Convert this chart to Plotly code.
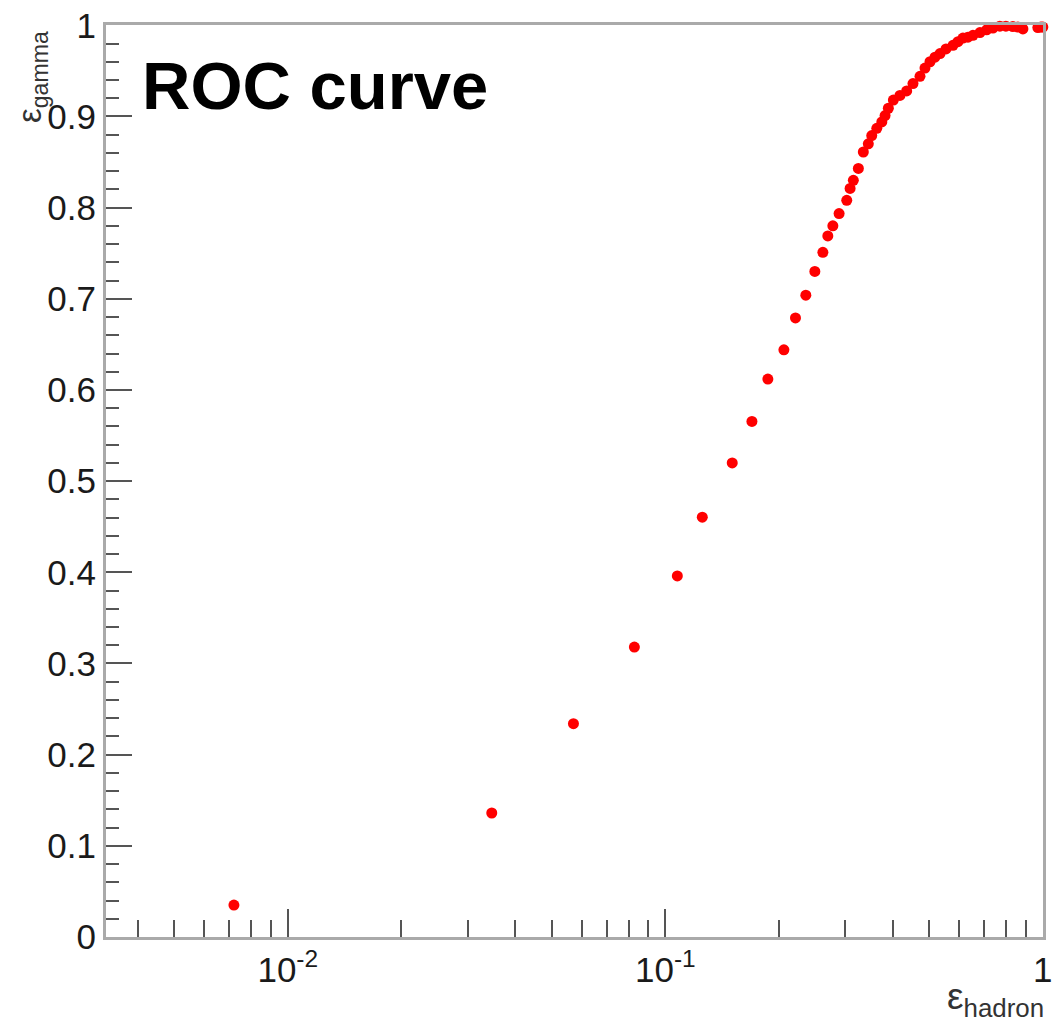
import plotly.graph_objects as go

# ROC curve points
eff_hadron = [
    0.00720, 0.0347, 0.0571, 0.0828, 0.1076, 0.1253, 0.1504, 0.1696, 0.1869,
    0.2061, 0.2212, 0.2356, 0.2489, 0.2614, 0.2694, 0.2778, 0.2886, 0.3024,
    0.3086, 0.3148, 0.3246, 0.3346, 0.3449, 0.3522, 0.3632, 0.3745, 0.3820,
    0.3897, 0.4018, 0.4183, 0.4358, 0.4529, 0.4727, 0.4873, 0.5024, 0.5180,
    0.5341, 0.5540, 0.5781, 0.5959, 0.6143, 0.6333, 0.6530, 0.6813, 0.7097,
    0.7375, 0.7695, 0.7983, 0.8328, 0.8586, 0.8855, 0.9700, 0.9880, 1.0000,
]
eff_gamma = [
    0.035, 0.136, 0.234, 0.318, 0.396, 0.4605, 0.520, 0.5655, 0.612,
    0.644, 0.679, 0.704, 0.730, 0.751, 0.769, 0.780, 0.7935, 0.808,
    0.821, 0.830, 0.843, 0.861, 0.870, 0.879, 0.887, 0.894, 0.901,
    0.909, 0.918, 0.923, 0.928, 0.936, 0.944, 0.953, 0.960, 0.965,
    0.969, 0.974, 0.978, 0.982, 0.986, 0.987, 0.989, 0.992, 0.995,
    0.997, 0.999, 0.999, 0.9986, 0.998, 0.996, 0.9975, 0.998, 0.998,
]

x_major = [0.01, 0.1, 1]
x_major_text = ["10<sup>-2</sup>", "10<sup>-1</sup>", "1"]
x_minor = [m * d for d in (0.001, 0.01, 0.1) for m in range(2, 10) if m * d > 0.0033]
y_major = [0, 0.1, 0.2, 0.3, 0.4, 0.5, 0.6, 0.7, 0.8, 0.9, 1]
y_major_text = ["0", "0.1", "0.2", "0.3", "0.4", "0.5", "0.6", "0.7", "0.8", "0.9", "1"]

FONT = "Liberation Sans"
TICKC = "#555555"

fig = go.Figure()
fig.add_trace(go.Scatter(
    x=eff_hadron, y=eff_gamma, mode="markers",
    marker=dict(color="#ff0000", size=11, line=dict(width=0)),
    showlegend=False, cliponaxis=False,
))

fig.update_layout(
    width=1056, height=1015,
    margin=dict(l=98, r=21, t=17, b=86, autoexpand=False),
    paper_bgcolor="white", plot_bgcolor="white",
    font=dict(family=FONT, color="#222222"),
    xaxis=dict(
        type="log", range=[-2.4815, 0.0004], automargin=False,
        tickvals=x_major, ticktext=x_major_text, ticklabeloverflow="allow",
        ticks="inside", ticklen=28, tickwidth=1.5, tickcolor=TICKC,
        minor=dict(tickvals=x_minor, ticks="inside", ticklen=17,
                   tickwidth=1.5, tickcolor=TICKC, showgrid=False),
        showgrid=False, zeroline=False,
        showline=True, mirror=True, linecolor="#aaaaaa", linewidth=3,
        tickfont=dict(size=35, family=FONT, color="#1a1a1a"),
    ),
    yaxis=dict(
        range=[0, 1.0003], automargin=False,
        tickvals=y_major, ticktext=y_major_text, ticklabeloverflow="allow",
        ticks="inside", ticklen=26, tickwidth=1.5, tickcolor=TICKC,
        minor=dict(dtick=0.02, tick0=0, ticks="inside", ticklen=13,
                   tickwidth=1.5, tickcolor=TICKC, showgrid=False),
        showgrid=False, zeroline=False,
        showline=True, mirror=True, linecolor="#aaaaaa", linewidth=3,
        tickfont=dict(size=35, family=FONT, color="#1a1a1a"),
    ),
)

fig.add_annotation(
    text="<b>ROC curve</b>", xref="paper", yref="paper",
    x=0.036, y=0.977, xanchor="left", yanchor="top", showarrow=False,
    font=dict(size=67, family=FONT, color="black"),
)
fig.add_annotation(
    text="\u03b5<sub>gamma</sub>", xref="paper", yref="paper",
    x=-0.079, y=0.943, xanchor="center", yanchor="middle", textangle=-90,
    showarrow=False, font=dict(size=33, family=FONT, color="#333333"),
)
fig.add_annotation(
    text="\u03b5<sub>hadron</sub>", xref="paper", yref="paper",
    x=1.003, y=-0.068, xanchor="right", yanchor="middle",
    showarrow=False, font=dict(size=37, family=FONT, color="#333333"),
)

fig.write_html("out.html")
